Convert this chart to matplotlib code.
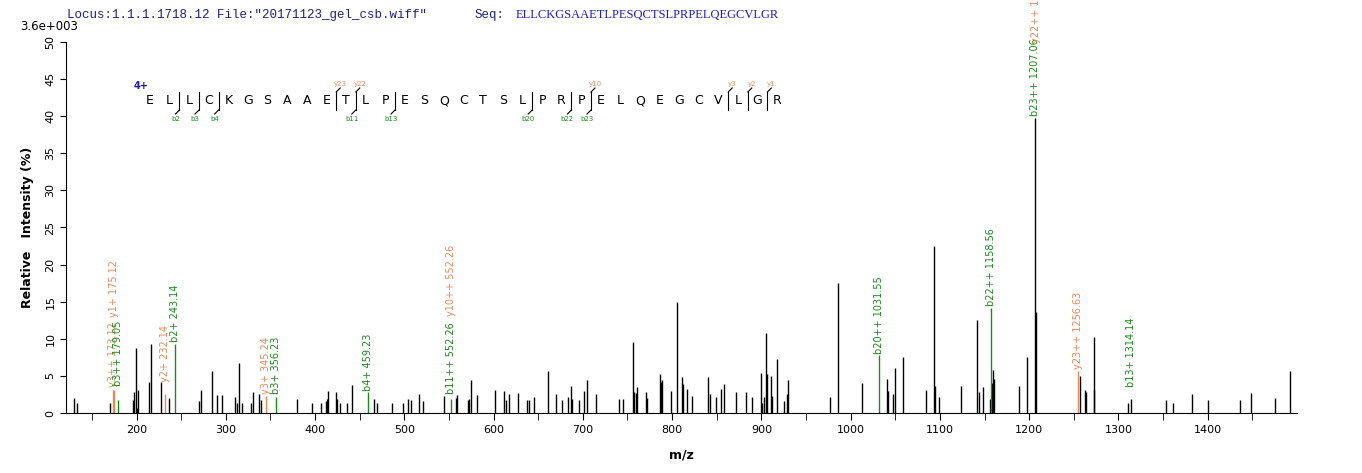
import matplotlib
matplotlib.use("Agg")
import matplotlib.pyplot as plt
from matplotlib.lines import Line2D

peak_mz = [130, 133, 170, 196, 197, 199.7, 201, 202, 213.8, 216.4, 227, 236.5, 269.6, 272, 284, 289.6,
           296.3, 309.8, 313, 314.7, 317.7, 328.8, 331, 337.4, 340, 380.3, 397, 407, 412.5, 413.5, 414.9,
           423.5, 424.6, 428.3, 436, 441.7, 466.5, 469.8, 486.4, 498.7, 504, 507, 516, 520.9, 544.4, 557.8,
           559, 571, 572.4, 574.7, 581.4, 601.5, 611.5, 613.7, 617, 627, 637, 639.4, 645, 660.7, 669.7,
           676.4, 683, 686.4, 687.5, 695.4, 701, 704.7, 714.7, 740, 744.5, 755.7, 757.6, 759, 760.2, 770.2,
           771.3, 786.6, 787.7, 788.8, 798.5, 804.9, 811.6, 812.7, 817.2, 822.7, 840.6, 842.5, 849.6, 855.1,
           858.1, 871.9, 883.1, 889.4, 899.5, 901, 902.4, 905.4, 906.5, 911, 912.1, 917.7, 924.8, 928.9, 930,
           977, 986.3, 1013, 1041, 1042.2, 1047.6, 1050, 1059, 1084.5, 1093.6, 1094.5, 1099.5, 1124, 1141.7,
           1144, 1148.3, 1156.6, 1158.3, 1159.5, 1160.6, 1188.8, 1197.7, 1206.8, 1207.8, 1256.8, 1262, 1263.3,
           1272.2, 1273, 1310.4, 1314.2, 1352.9, 1360.6, 1381.9, 1400.8, 1436.7, 1448.6, 1475.7, 1492.3]
peak_int = [2.0, 1.4, 1.4, 1.8, 2.8, 8.8, 0.7, 3.1, 4.2, 9.3, 4.2, 2.0, 1.6, 3.1, 5.7, 2.4,
            2.4, 2.1, 1.4, 6.8, 1.4, 1.4, 2.8, 2.6, 1.7, 1.9, 1.4, 1.4, 1.6, 1.9, 2.9,
            2.8, 1.9, 1.4, 1.4, 3.8, 1.9, 1.4, 1.4, 1.4, 1.9, 1.8, 2.5, 1.6, 2.3, 2.0,
            2.4, 1.8, 1.9, 4.4, 2.4, 3.1, 3.0, 1.8, 2.6, 2.7, 1.7, 1.7, 2.1, 5.7, 2.6,
            1.7, 2.2, 3.7, 1.9, 1.8, 3.0, 4.5, 2.6, 1.9, 1.9, 9.6, 2.8, 2.7, 3.5, 2.8,
            2.0, 5.2, 4.2, 4.4, 3.0, 15.0, 4.8, 3.9, 3.3, 2.3, 4.8, 2.5, 2.1, 3.3,
            3.9, 2.8, 2.8, 2.2, 5.4, 1.3, 2.2, 10.8, 5.3, 5.0, 2.3, 7.3, 1.6, 2.5, 4.5,
            2.2, 17.5, 4.0, 4.6, 2.9, 2.6, 6.0, 7.6, 3.1, 22.5, 3.7, 2.1, 3.6, 12.6,
            2.8, 3.5, 1.9, 4.0, 5.8, 4.6, 3.6, 7.6, 39.7, 13.6, 5.0, 3.1, 2.8,
            10.2, 3.1, 1.3, 1.9, 1.8, 1.3, 2.6, 1.8, 1.7, 2.7, 2.0, 5.6]

ion_mz = [173.3, 175.1, 179.0, 232.4, 243.5, 345.5, 356.2, 459.5, 552.3, 1031.3, 1157.3, 1254.6]
ion_int = [3.1, 3.1, 1.8, 2.5, 9.3, 2.3, 2.2, 2.8, 1.9, 7.8, 14.2, 5.7]
ion_kind = ['y', 'y', 'b', 'y', 'b', 'y', 'b', 'b', 'b', 'b', 'b', 'y']

label_mz = [173.3, 175.1, 179.0, 232.4, 243.5, 345.5, 356.2, 459.5, 552.3, 552.3, 1031.3, 1157.3,
            1206.8, 1207.6, 1254.6, 1314.2]
label_text = ["y3++ 173.12", "y1+ 175.12", "b3++ 179.05", "y2+ 232.14", "b2+ 243.14", "y3+ 345.24",
              "b3+ 356.23", "b4+ 459.23", "b11++ 552.26", "y10++ 552.26", "b20++ 1031.55",
              "b22++ 1158.56", "b23++ 1207.06", "y22++ 1207.06", "y23++ 1256.63", "b13+ 1314.14"]
label_kind = ['y', 'y', 'b', 'y', 'b', 'y', 'b', 'b', 'b', 'y', 'b', 'b', 'b', 'y', 'y', 'b']
label_base = [3.5, 12.9, 3.6, 4.2, 9.6, 2.6, 2.6, 3.0, 2.6, 13.1, 7.9, 14.4, 40.0, 49.8, 5.9, 3.5]

sequence = list("ELLCKGSAAETLPESQCTSLPRPELQEGCVLGR")
b_breaks = [2, 3, 4, 11, 13, 20, 22, 23]
y_breaks = [23, 22, 10, 3, 2, 1]

GREEN = "#1a8a1a"
ORANGE = "#e8895a"
col = {'b': GREEN, 'y': ORANGE}

W, H = 1362, 473
fig = plt.figure(figsize=(W / 100, H / 100), dpi=100)
ax = fig.add_axes([66 / W, 1 - 413 / H, (1297 - 66) / W, (413 - 42) / H])

ax.vlines(peak_mz, 0, peak_int, color="black", lw=1.0)
ax.vlines(ion_mz, 0, ion_int, color=[col[k] for k in ion_kind], lw=1.0)
for i, (m, t, k, b) in enumerate(zip(label_mz, label_text, label_kind, label_base)):
    ax.text(m, b, t, rotation=90, ha="center", va="bottom", color=col[k], fontsize=7,
            clip_on=False, zorder=1 if i == 0 else 3)

ax.set_xlim(121, 1500)
ax.set_ylim(0, 50)
ax.set_xticks(range(200, 1500, 100))
ax.set_xticks(range(150, 1500, 50), minor=True)
ax.set_yticks(range(0, 51, 5))
ax.tick_params(axis="x", labelsize=8, direction="out", length=5)
ax.tick_params(axis="x", which="minor", length=5)
ax.tick_params(axis="y", labelsize=8, direction="out", length=4)
for lab in ax.get_yticklabels():
    lab.set_rotation(90)
    lab.set_va("center")
for s in ("top", "right"):
    ax.spines[s].set_visible(False)
ax.set_xlabel("m/z", fontsize=9, fontweight="bold", labelpad=10)
ax.set_ylabel("Relative   Intensity (%)", fontsize=9, fontweight="bold", labelpad=8)

fig.text(20 / W, 1 - 26 / H, "3.6e+003", fontsize=8.5, va="center")
fig.text(67 / W, 1 - 15 / H, 'Locus:1.1.1.1718.12 File:"20171123_gel_csb.wiff"', family="Liberation Mono",
         fontsize=9, color="#1a237e", va="center")
fig.text(475 / W, 1 - 15 / H, "Seq:", family="Liberation Mono", fontsize=9, color="#1a237e", va="center")
fig.text(516 / W, 1 - 15 / H, "".join(sequence), family="Liberation Serif", fontsize=9, color="#1c1cc8",
         va="center")

# sequence coverage map
x0, dx, yl = 150, 19.6, 101
fig.text(134 / W, 1 - 86 / H, "4+", fontsize=7, color="#1c1ca8", fontweight="bold", va="center")
for i, ch in enumerate(sequence):
    fig.text((x0 + i * dx) / W, 1 - yl / H, ch, fontsize=9, ha="center", va="center")
n = len(sequence)
marks = {}
for b in b_breaks:
    marks.setdefault(b, set()).add('b')
for y in y_breaks:
    marks.setdefault(n - y, set()).add('y')
for pos, kinds in marks.items():
    xm = x0 + (pos - 0.5) * dx
    fig.add_artist(Line2D([xm / W, xm / W], [1 - 92 / H, 1 - 110 / H], color="black", lw=0.8))
    if 'y' in kinds:
        fig.add_artist(Line2D([xm / W, (xm + 4) / W], [1 - 92 / H, 1 - 88 / H], color="black", lw=0.8))
        idx = n - pos
        fig.text((xm + 4) / W, 1 - 84 / H, f"y{idx}", fontsize=5, color=ORANGE, ha="center", va="center")
    if 'b' in kinds:
        fig.add_artist(Line2D([xm / W, (xm - 4) / W], [1 - 110 / H, 1 - 114 / H], color="black", lw=0.8))
        fig.text((xm - 4) / W, 1 - 119 / H, f"b{pos}", fontsize=5, color=GREEN, ha="center", va="center")

fig.savefig("out.png", dpi=100)
